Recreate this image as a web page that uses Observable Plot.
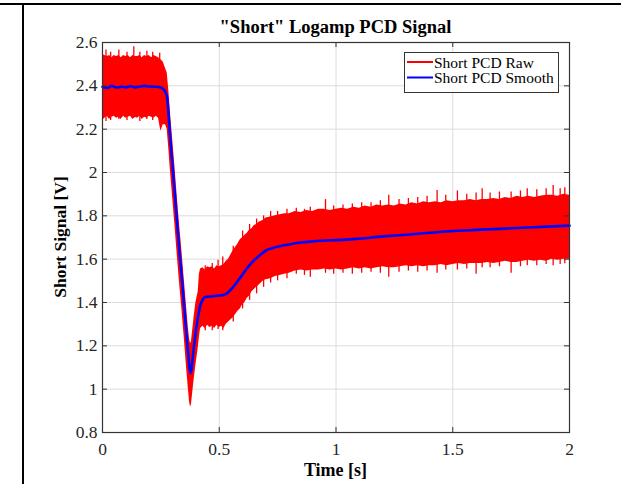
<!DOCTYPE html>
<html>
<head>
<meta charset="utf-8">
<script src="https://cdn.jsdelivr.net/npm/d3@7"></script>
<script src="https://cdn.jsdelivr.net/npm/@observablehq/plot@0.6"></script>
<style>
  html, body { margin: 0; padding: 0; background: #fff; overflow: hidden; }
  #wrap { position: relative; width: 621px; height: 484px; overflow: hidden; }
  #topline { position: absolute; left: 0; top: 3px; width: 621px; height: 2px; background: #000; }
  #leftline { position: absolute; left: 22px; top: 3px; width: 2px; height: 481px; background: #000; }
  svg { display: block; }
</style>
</head>
<body>
<div id="wrap"><div id="chart"></div><div id="topline"></div><div id="leftline"></div></div>
<script>
// ---- Text ----
const titleText = "\"Short\" Logamp PCD Signal";
const xLabel = "Time [s]";
const yLabel = "Short Signal [V]";
const seriesNames = ["Short PCD Raw", "Short PCD Smooth"];

// ---- Ticks ----
const xTicks = [0, 0.5, 1, 1.5, 2];
const xTickLabels = ["0", "0.5", "1", "1.5", "2"];
const yTicks = [0.8, 1, 1.2, 1.4, 1.6, 1.8, 2, 2.2, 2.4, 2.6];
const yTickLabels = ["0.8", "1", "1.2", "1.4", "1.6", "1.8", "2", "2.2", "2.4", "2.6"];

// ---- Raw signal envelope ----
const rawTime = [
  0, 0.01, 0.02, 0.03, 0.04, 0.05, 0.06, 0.07, 0.08, 0.09,
  0.10, 0.11, 0.12, 0.13, 0.14, 0.15, 0.16, 0.17, 0.18, 0.19,
  0.20, 0.21, 0.22, 0.23, 0.24, 0.25, 0.26, 0.27, 0.277, 0.284,
  0.29, 0.30, 0.31, 0.32, 0.33, 0.34, 0.35, 0.36, 0.368, 0.373,
  0.377, 0.381, 0.386, 0.392, 0.40, 0.41, 0.415, 0.42, 0.43, 0.44,
  0.45, 0.46, 0.47, 0.48, 0.49, 0.50, 0.51, 0.52, 0.53, 0.54,
  0.55, 0.56, 0.57, 0.58, 0.59, 0.60, 0.61, 0.62, 0.63, 0.64,
  0.65, 0.66, 0.67, 0.68, 0.69, 0.70, 0.72, 0.74, 0.76, 0.78,
  0.80, 0.825, 0.85, 0.875, 0.9, 0.925, 0.95, 0.975, 1.0, 1.025,
  1.05, 1.075, 1.1, 1.125, 1.15, 1.175, 1.2, 1.225, 1.25, 1.275,
  1.3, 1.325, 1.35, 1.375, 1.4, 1.425, 1.45, 1.475, 1.5, 1.525,
  1.55, 1.575, 1.6, 1.625, 1.65, 1.675, 1.7, 1.725, 1.75, 1.775,
  1.8, 1.825, 1.85, 1.875, 1.9, 1.925, 1.95, 1.975, 2.0
];
const rawUpper = [
  2.545, 2.54, 2.535, 2.54, 2.53, 2.54, 2.535, 2.54, 2.53, 2.54,
  2.535, 2.54, 2.53, 2.54, 2.535, 2.535, 2.54, 2.53, 2.54, 2.535,
  2.54, 2.53, 2.54, 2.535, 2.53, 2.52, 2.51, 2.48, 2.46, 2.38,
  2.29, 2.16, 2.03, 1.89, 1.76, 1.64, 1.51, 1.38, 1.28, 1.23,
  1.21, 1.22, 1.27, 1.33, 1.40, 1.45, 1.53, 1.555, 1.56, 1.55,
  1.565, 1.56, 1.565, 1.555, 1.57, 1.565, 1.57, 1.575, 1.59, 1.60,
  1.62, 1.64, 1.655, 1.67, 1.69, 1.70, 1.71, 1.72, 1.735, 1.74,
  1.755, 1.76, 1.77, 1.775, 1.78, 1.79, 1.795, 1.80, 1.805, 1.81,
  1.81, 1.82, 1.815, 1.825, 1.82, 1.83, 1.83, 1.825, 1.83, 1.835,
  1.83, 1.84, 1.835, 1.845, 1.84, 1.85, 1.845, 1.85, 1.845, 1.855,
  1.85, 1.86, 1.855, 1.865, 1.86, 1.865, 1.86, 1.87, 1.865, 1.87,
  1.87, 1.875, 1.87, 1.875, 1.875, 1.88, 1.875, 1.885, 1.88, 1.89,
  1.885, 1.89, 1.885, 1.89, 1.895, 1.895, 1.89, 1.9, 1.895
];
const rawLower = [
  2.24, 2.25, 2.26, 2.245, 2.255, 2.26, 2.25, 2.255, 2.245, 2.26,
  2.25, 2.255, 2.26, 2.245, 2.255, 2.25, 2.26, 2.245, 2.255, 2.25,
  2.26, 2.255, 2.25, 2.26, 2.25, 2.19, 2.22, 2.22, 2.20, 2.11,
  2.02, 1.89, 1.76, 1.62, 1.49, 1.37, 1.24, 1.10, 1.00, 0.94,
  0.917, 0.93, 0.98, 1.04, 1.11, 1.19, 1.24, 1.28, 1.29, 1.28,
  1.295, 1.285, 1.29, 1.28, 1.295, 1.285, 1.29, 1.28, 1.30, 1.31,
  1.32, 1.33, 1.345, 1.36, 1.37, 1.39, 1.40, 1.42, 1.43, 1.45,
  1.46, 1.47, 1.48, 1.49, 1.50, 1.505, 1.51, 1.52, 1.525, 1.53,
  1.535, 1.545, 1.55, 1.545, 1.55, 1.55, 1.555, 1.55, 1.555, 1.55,
  1.555, 1.56, 1.555, 1.56, 1.555, 1.56, 1.565, 1.56, 1.56, 1.565,
  1.57, 1.565, 1.57, 1.565, 1.57, 1.57, 1.575, 1.57, 1.575, 1.58,
  1.575, 1.58, 1.58, 1.58, 1.585, 1.58, 1.585, 1.59, 1.585, 1.585,
  1.59, 1.595, 1.59, 1.595, 1.59, 1.6, 1.595, 1.6, 1.6
];

// ---- Raw signal needles: instants where the raw trace reaches beyond the band ----
const needleTime = [
  0.015, 0.035, 0.07, 0.105, 0.134, 0.16, 0.19, 0.215, 0.245,
  0.44, 0.47, 0.495, 0.515,
  0.56, 0.60, 0.63, 0.66, 0.69, 0.72, 0.75, 0.79,
  0.83, 0.865, 0.89, 0.955, 0.99, 1.03, 1.07, 1.11, 1.15, 1.19,
  1.226, 1.27, 1.31, 1.35, 1.39, 1.433, 1.47, 1.52, 1.56, 1.60,
  1.626, 1.66, 1.70, 1.75, 1.79, 1.819, 1.86, 1.90, 1.93, 1.96, 1.98
];
const needleHigh = [
  2.565, 2.555, 2.565, 2.555, 2.58, 2.555, 2.56, 2.555, 2.55,
  1.57, 1.58, 1.595, 1.61,
  1.66, 1.73, 1.76, 1.785, 1.80, 1.82, 1.82, 1.83,
  1.835, 1.83, 1.84, 1.875, 1.845, 1.85, 1.855, 1.86, 1.86, 1.87,
  1.895, 1.875, 1.88, 1.885, 1.89, 1.917, 1.895, 1.915, 1.9, 1.905,
  1.925, 1.905, 1.91, 1.91, 1.915, 1.925, 1.92, 1.925, 1.94, 1.925, 1.93
];
const needleLow = [
  2.235, 2.24, 2.245, 2.24, 2.25, 2.235, 2.245, 2.24, 2.23,
  1.27, 1.27, 1.275, 1.27,
  1.31, 1.37, 1.41, 1.44, 1.47, 1.49, 1.50, 1.51,
  1.53, 1.525, 1.517, 1.535, 1.53, 1.535, 1.53, 1.535, 1.54, 1.535,
  1.517, 1.54, 1.545, 1.54, 1.545, 1.535, 1.55, 1.55, 1.555, 1.53,
  1.56, 1.56, 1.565, 1.535, 1.565, 1.57, 1.57, 1.575, 1.57, 1.575, 1.579
];

// ---- Smoothed signal ----
const smoothTime = [
  0, 0.02, 0.04, 0.06, 0.08, 0.10, 0.12, 0.14, 0.16, 0.18,
  0.20, 0.22, 0.24, 0.25, 0.26, 0.27, 0.277, 0.284, 0.29, 0.30,
  0.31, 0.32, 0.33, 0.34, 0.35, 0.36, 0.368, 0.373, 0.377, 0.381,
  0.386, 0.392, 0.40, 0.41, 0.42, 0.43, 0.44, 0.46, 0.48, 0.50,
  0.52, 0.53, 0.55, 0.58, 0.61, 0.64, 0.67, 0.70, 0.73, 0.76,
  0.80, 0.85, 0.90, 0.95, 1.0, 1.1, 1.2, 1.3, 1.4, 1.5,
  1.6, 1.7, 1.8, 1.9, 2.0
];
const smoothValue = [
  2.395, 2.39, 2.40, 2.392, 2.396, 2.393, 2.398, 2.393, 2.397, 2.40,
  2.396, 2.397, 2.395, 2.392, 2.385, 2.37, 2.345, 2.25, 2.16, 2.03,
  1.90, 1.76, 1.63, 1.51, 1.38, 1.25, 1.15, 1.095, 1.075, 1.09,
  1.14, 1.20, 1.27, 1.34, 1.39, 1.415, 1.425, 1.428, 1.43, 1.432,
  1.436, 1.44, 1.46, 1.50, 1.545, 1.585, 1.615, 1.64, 1.652, 1.66,
  1.668, 1.677, 1.682, 1.686, 1.688, 1.695, 1.705, 1.713, 1.722, 1.73,
  1.735, 1.74, 1.745, 1.75, 1.755
];

const rawRows = rawTime.map((t, i) => ({t, hi: rawUpper[i], lo: rawLower[i]}));
const needleRows = needleTime.map((t, i) => ({t, hi: needleHigh[i], lo: needleLow[i]}));
const smoothRows = smoothTime.map((t, i) => ({t, v: smoothValue[i]}));

const W = 621, H = 484, mL = 102, mR = 52, mT = 42, mB = 52;
const plotW = W - mL - mR, plotH = H - mT - mB;
const axisColor = "#333333";
const gridColor = "#dcdcdc";
const font = "'Liberation Serif', 'Times New Roman', serif";

const chart = Plot.plot({
  width: W, height: H,
  marginLeft: mL, marginRight: mR, marginTop: mT, marginBottom: mB,
  x: {domain: [0, 2]},
  y: {domain: [0.8, 2.6]},
  style: {fontFamily: font, fontSize: "17.5px", color: "#262626", background: "transparent"},
  marks: [
    Plot.gridX(xTicks, {stroke: gridColor, strokeOpacity: 1}),
    Plot.gridY(yTicks, {stroke: gridColor, strokeOpacity: 1}),
    Plot.areaY(rawRows, {x: "t", y1: "lo", y2: "hi", fill: "#ff0000", curve: "linear"}),
    Plot.ruleX(needleRows, {x: "t", y1: "lo", y2: "hi", stroke: "#ff0000", strokeWidth: 1.3}),
    Plot.line(smoothRows, {x: "t", y: "v", stroke: "#0000ff", strokeWidth: 2.6, curve: "monotone-x"}),
    Plot.frame({stroke: axisColor, strokeWidth: 1.2}),
    Plot.tickX(xTicks, {x: d => d, stroke: axisColor, insetTop: plotH - 5}),
    Plot.tickX(xTicks, {x: d => d, stroke: axisColor, insetBottom: plotH - 5}),
    Plot.tickY(yTicks, {y: d => d, stroke: axisColor, insetRight: plotW - 5}),
    Plot.tickY(yTicks, {y: d => d, stroke: axisColor, insetLeft: plotW - 5}),
    Plot.axisX(xTicks, {tickSize: 0, tickPadding: 10, label: null,
      tickFormat: d => xTickLabels[xTicks.indexOf(d)]}),
    Plot.axisY(yTicks, {tickSize: 0, tickPadding: 5, label: null,
      tickFormat: d => yTickLabels[yTicks.indexOf(d)]})
  ]
});
document.getElementById("chart").appendChild(chart);

const svg = d3.select(chart);
const cx = mL + plotW / 2;
svg.append("text").attr("x", cx).attr("y", 33)
  .attr("text-anchor", "middle").attr("font-family", font).attr("font-weight", "bold")
  .attr("font-size", "18.5px").attr("fill", "#000").text(titleText);
svg.append("text").attr("x", cx).attr("y", 476)
  .attr("text-anchor", "middle").attr("font-family", font).attr("font-weight", "bold")
  .attr("font-size", "18px").attr("fill", "#000").text(xLabel);
svg.append("text").attr("transform", `translate(66,${mT + plotH / 2}) rotate(-90)`)
  .attr("text-anchor", "middle").attr("font-family", font).attr("font-weight", "bold")
  .attr("font-size", "17.5px").attr("fill", "#000").text(yLabel);

// Legend
const lg = svg.append("g").attr("font-family", font).attr("font-size", "15.5px");
lg.append("rect").attr("x", 404.5).attr("y", 52.5).attr("width", 154).attr("height", 40)
  .attr("fill", "#fff").attr("stroke", axisColor).attr("stroke-width", 1);
const colors = ["#ff0000", "#0000ff"];
seriesNames.forEach((name, i) => {
  const yy = 62 + i * 15.5;
  lg.append("line").attr("x1", 407).attr("x2", 433).attr("y1", yy).attr("y2", yy)
    .attr("stroke", colors[i]).attr("stroke-width", 2);
  lg.append("text").attr("x", 434).attr("y", yy + 5.5).attr("text-anchor", "start")
    .attr("fill", "#000").text(name);
});
</script>
</body>
</html>
